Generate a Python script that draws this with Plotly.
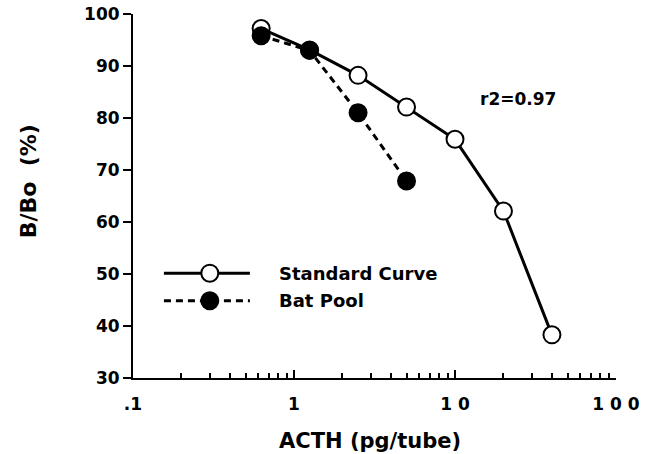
import plotly.graph_objects as go

std_x = [0.625, 1.25, 2.5, 5, 10, 20, 40]
std_y = [97.2, 93.1, 88.2, 82.1, 75.9, 62.1, 38.3]
bat_x = [0.625, 1.25, 2.5, 5]
bat_y = [95.8, 93.0, 81.0, 67.9]

x_tickvals = [0.1, 1, 10, 100]
x_ticktext = [".1", "1", "1 0", "1 0 0"]
x_minor_vals = [0.2, 0.3, 0.4, 0.5, 0.6, 0.7, 0.8, 0.9,
                2, 3, 4, 5, 6, 7, 8, 9,
                20, 30, 40, 50, 60, 70, 80, 90]
y_tickvals = [30, 40, 50, 60, 70, 80, 90, 100]

FONT = "DejaVu Sans"
STD_NAME = "Standard Curve"
BAT_NAME = "Bat Pool"

fig = go.Figure()
fig.add_trace(go.Scatter(
    x=std_x, y=std_y, mode="lines+markers", name=STD_NAME,
    line=dict(color="black", width=3),
    marker=dict(symbol="circle", size=17, color="white", line=dict(color="black", width=2)),
))
fig.add_trace(go.Scatter(
    x=bat_x, y=bat_y, mode="lines+markers", name=BAT_NAME,
    line=dict(color="black", width=3, dash="7px,5px"),
    marker=dict(symbol="circle", size=17, color="black", line=dict(color="black", width=2)),
))

# legend (drawn as decoration in paper coordinates)
leg_x0, leg_x1, leg_cx, leg_tx = 0.064, 0.242, 0.159, 0.298
leg_rows = [(0.288, STD_NAME, "white", False), (0.212, BAT_NAME, "black", True)]
for ly, name, fill, dashed in leg_rows:
    fig.add_shape(type="line", xref="paper", yref="paper", x0=leg_x0, x1=leg_x1, y0=ly, y1=ly,
                  line=dict(color="black", width=3, dash="7px,5px" if dashed else "solid"))
    fig.add_shape(type="circle", xref="paper", yref="paper", xsizemode="pixel", ysizemode="pixel",
                  xanchor=leg_cx, yanchor=ly, x0=-8.5, x1=8.5, y0=-8.5, y1=8.5,
                  fillcolor=fill, line=dict(color="black", width=2))
    fig.add_annotation(x=leg_tx, y=ly, xref="paper", yref="paper", text="<b>%s</b>" % name,
                       showarrow=False, xanchor="left", yanchor="middle",
                       font=dict(family=FONT, size=18, color="black"))

fig.add_annotation(x=0.797, y=0.766, xref="paper", yref="paper", text="<b>r2=0.97</b>",
                   showarrow=False, font=dict(family=FONT, size=17, color="black"),
                   xanchor="center", yanchor="middle")

# axis titles
fig.add_annotation(x=0.49, y=-0.173, xref="paper", yref="paper", text="<b>ACTH (pg/tube)</b>",
                   showarrow=False, font=dict(family=FONT, size=21, color="black"),
                   xanchor="center", yanchor="middle")
fig.add_annotation(x=-0.217, y=0.541, xref="paper", yref="paper", text="<b>B/Bo\u00a0\u00a0(%)</b>",
                   showarrow=False, textangle=-90, font=dict(family=FONT, size=22, color="black"),
                   xanchor="center", yanchor="middle")

fig.update_layout(
    width=653, height=454,
    margin=dict(l=133, r=37, t=14, b=76),
    paper_bgcolor="white", plot_bgcolor="white",
    font=dict(family=FONT, color="black"),
    showlegend=False,
    xaxis=dict(type="log", range=[-1, 2], tickvals=x_tickvals,
               ticktext=["<b>%s</b>" % t for t in x_ticktext],
               ticks="inside", ticklen=8, tickwidth=2, tickcolor="black",
               minor=dict(tickvals=x_minor_vals, ticks="inside", ticklen=5, tickwidth=1.5, tickcolor="black"),
               showline=True, linecolor="black", linewidth=2, showgrid=False, zeroline=False,
               tickfont=dict(family=FONT, size=17, color="black"), ticklabelstandoff=10,
               automargin=False),
    yaxis=dict(range=[30, 100], tickvals=y_tickvals,
               ticktext=["<b>%d</b>" % v for v in y_tickvals],
               ticks="outside", ticklen=8, tickwidth=2, tickcolor="black",
               showline=True, linecolor="black", linewidth=2, showgrid=False, zeroline=False,
               tickfont=dict(family=FONT, size=17, color="black"),
               automargin=False),
)

fig.write_html("out.html", config={"displayModeBar": False},
               post_script="document.body.style.margin='0';")
